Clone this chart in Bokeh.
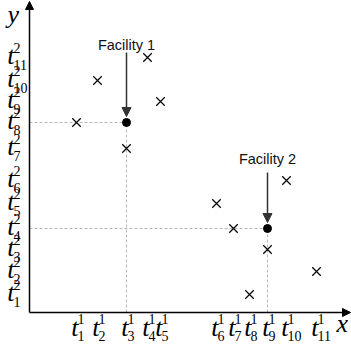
from bokeh.plotting import figure
from bokeh.models import ColumnDataSource, Arrow, NormalHead, Range1d
from bokeh.core.properties import value
from bokeh.embed import file_html
from bokeh.resources import INLINE

# ---- data (positions of the breakpoints along each axis) ----
x_ticks = [47, 68, 97, 118, 131, 187, 204, 220, 238, 257, 287]
y_ticks = [18, 41, 63, 84, 109, 132, 164, 190, 211, 232, 255]
x_sub = ["1", "2", "3", "4", "5", "6", "7", "8", "9", "10", "11"]
y_sub = ["1", "2", "3", "4", "5", "6", "7", "8", "9", "10", "11"]
x_sup = "1"
y_sup = "2"

# customers: i-th x breakpoint paired with the given y breakpoint index
cust_x_idx = [1, 2, 3, 4, 5, 6, 7, 8, 9, 10, 11]
cust_y_idx = [8, 10, 7, 11, 9, 5, 4, 1, 3, 6, 2]

fac_names = ["Facility 1", "Facility 2"]
fac_x_idx = [3, 9]
fac_y_idx = [8, 4]

x_axis_end = 321
y_axis_end = 311

# ---- derived ----
cx = [x_ticks[i - 1] for i in cust_x_idx]
cy = [y_ticks[i - 1] for i in cust_y_idx]
fx = [x_ticks[i - 1] for i in fac_x_idx]
fy = [y_ticks[i - 1] for i in fac_y_idx]

p = figure(width=351, height=347, output_backend="svg", toolbar_location=None,
           x_range=Range1d(-29, 322), y_range=Range1d(-35, 312),
           x_axis_type=None, y_axis_type=None, min_border=0,
           min_border_left=0, min_border_right=0, min_border_top=0, min_border_bottom=0)
p.outline_line_color = None
p.grid.visible = False
p.background_fill_color = "white"
p.border_fill_color = "white"

SERIF = value("Liberation Serif")
SANS = value("Liberation Sans")
dash_col = "#b8b8b8"

# dashed guides to the facilities
for X, Y in zip(fx, fy):
    p.line([0, X], [Y, Y], line_color=dash_col, line_dash="3 2", line_width=1)
    p.line([X, X], [0, Y], line_color=dash_col, line_dash="3 2", line_width=1)

# axes with arrow heads
p.add_layout(Arrow(end=NormalHead(size=8, fill_color="black", line_color="black"),
                   x_start=0, y_start=0, x_end=x_axis_end, y_end=0,
                   line_color="black", line_width=1.5))
p.add_layout(Arrow(end=NormalHead(size=8, fill_color="black", line_color="black"),
                   x_start=0, y_start=0, x_end=0, y_end=y_axis_end,
                   line_color="black", line_width=1.5))

# customers and facilities
p.scatter(cx, cy, marker="x", size=12, line_color="black", line_width=1.2)
p.scatter(fx, fy, marker="circle", size=8, fill_color="black", line_color="black")

# facility pointers and labels
label_rise = [78, 70]
arrow_rise = [70, 56]
arrow_stop = 6
asrc = ColumnDataSource(dict(x0=fx, y0=[y + r for y, r in zip(fy, arrow_rise)],
                             x1=fx, y1=[y + arrow_stop for y in fy]))
p.add_layout(Arrow(end=NormalHead(size=9, fill_color="#333333", line_color="#333333"),
                   x_start="x0", y_start="y0", x_end="x1", y_end="y1", source=asrc,
                   line_color="#333333", line_width=1.5))
p.text(x=fx, y=[y + r for y, r in zip(fy, label_rise)], text=fac_names,
       text_font=SANS, text_font_size="14.5px", text_align="center",
       text_baseline="middle", text_color="#111111")

# x breakpoint labels t^1_i
n = len(x_ticks)
p.text(x=x_ticks, y=[0] * n, text=["t"] * n, text_font=SERIF, text_font_style="italic",
       text_font_size="26px", text_align="right", text_baseline="middle",
       x_offset=2, y_offset=15, text_color="black")
p.text(x=x_ticks, y=[0] * n, text=[x_sup] * n, text_font=SERIF,
       text_font_size="14px", text_align="left", text_baseline="middle",
       x_offset=1, y_offset=6, text_color="black")
p.text(x=x_ticks, y=[0] * n, text=x_sub, text_font=SERIF,
       text_font_size="14px", text_align="left", text_baseline="middle",
       x_offset=1, y_offset=23, text_color="black")

# y breakpoint labels t^2_j
m = len(y_ticks)
p.text(x=[0] * m, y=y_ticks, text=["t"] * m, text_font=SERIF, text_font_style="italic",
       text_font_size="26px", text_align="right", text_baseline="middle",
       x_offset=-15, y_offset=-2, text_color="black")
p.text(x=[0] * m, y=y_ticks, text=[y_sup] * m, text_font=SERIF,
       text_font_size="14px", text_align="left", text_baseline="middle",
       x_offset=-16, y_offset=-10, text_color="black")
p.text(x=[0] * m, y=y_ticks, text=y_sub, text_font=SERIF,
       text_font_size="14px", text_align="left", text_baseline="middle",
       x_offset=-16, y_offset=7, text_color="black")

# axis names
p.text(x=[x_axis_end], y=[0], text=["x"], text_font=SERIF, text_font_style="italic",
       text_font_size="26px", text_align="left", text_baseline="middle",
       x_offset=-14, y_offset=11, text_color="black")
p.text(x=[0], y=[y_axis_end], text=["y"], text_font=SERIF, text_font_style="italic",
       text_font_size="26px", text_align="left", text_baseline="middle",
       x_offset=-22, y_offset=13, text_color="black")

open("out.html", "w").write(file_html(p, INLINE))
